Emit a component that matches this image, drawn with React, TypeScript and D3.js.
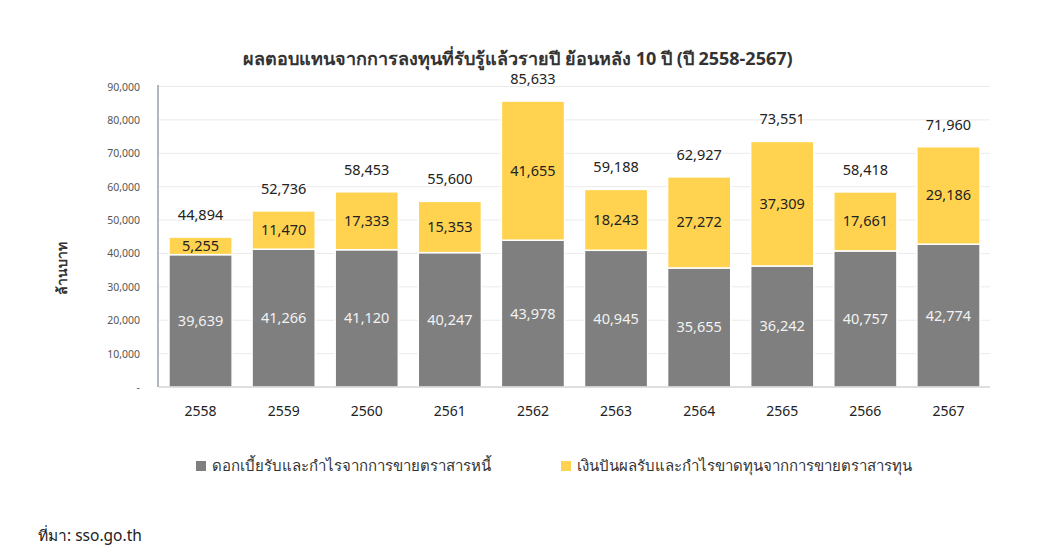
import * as d3 from "d3";

const years = ["2558", "2559", "2560", "2561", "2562", "2563", "2564", "2565", "2566", "2567"];
const interest = [39639, 41266, 41120, 40247, 43978, 40945, 35655, 36242, 40757, 42774];
const dividends = [5255, 11470, 17333, 15353, 41655, 18243, 27272, 37309, 17661, 29186];
const totals = [44894, 52736, 58453, 55600, 85633, 59188, 62927, 73551, 58418, 71960];
const yTicks = [0, 10000, 20000, 30000, 40000, 50000, 60000, 70000, 80000, 90000];
const seriesNames = [
  "ดอกเบี้ยรับและกำไรจากการขายตราสารหนี้",
  "เงินปันผลรับและกำไรขาดทุนจากการขายตราสารทุน",
];

const GREY = "#7f7f7f";
const YELLOW = "#ffd34f";
const FONT = "'Noto Sans', 'DejaVu Sans', sans-serif";

export default function App() {
  const width = 1040;
  const height = 560;
  const left = 159;
  const right = 990;
  const bottom = 387;

  const x = d3.scaleBand().domain(years).range([left, right]).paddingInner(0.24).paddingOuter(0.12);
  const y = d3.scaleLinear().domain([0, 90000]).range([bottom, 86.5]);
  const fmt = d3.format(",");
  const bw = x.bandwidth();

  return (
    <svg
      width={width}
      height={height}
      style={{ position: "absolute", left: 0, top: 0, background: "#fff" }}
      fontFamily={FONT}
    >
      <text x={518} y={65} textAnchor="middle" fontSize={18} fontWeight="bold" fill="#333">
        ผลตอบแทนจากการลงทุนที่รับรู้แล้วรายปี ย้อนหลัง 10 ปี (ปี 2558-2567)
      </text>

      {yTicks.map((t) => (
        <g key={t}>
          {t > 0 && <line x1={left} x2={right} y1={y(t)} y2={y(t)} stroke="#ebebeb" />}
          <text x={140} y={y(t) + 4} textAnchor="end" fontSize={10.5} fill="#555">
            {t === 0 ? "-" : fmt(t)}
          </text>
        </g>
      ))}

      <text
        transform={`translate(67, 268) rotate(-90)`}
        textAnchor="middle"
        fontSize={14}
        fontWeight="bold"
        fill="#333"
      >
        ล้านบาท
      </text>

      {years.map((yr, i) => {
        const bx = x(yr) ?? 0;
        const cx = bx + bw / 2;
        const g0 = y(interest[i]);
        const g1 = y(interest[i] + dividends[i]);
        return (
          <g key={yr}>
            <rect x={bx} y={g0} width={bw} height={bottom - g0} fill={GREY} stroke="#fff" strokeWidth={1.5} />
            <rect x={bx} y={g1} width={bw} height={g0 - g1} fill={YELLOW} stroke="#fff" strokeWidth={1.5} />
            <text x={cx} y={(g0 + bottom) / 2 + 5} textAnchor="middle" fontSize={14.5} fill="#f2f2f2">
              {fmt(interest[i])}
            </text>
            <text x={cx} y={(g1 + g0) / 2 + 5} textAnchor="middle" fontSize={14.5} fill="#222">
              {fmt(dividends[i])}
            </text>
            <text x={cx} y={y(totals[i]) - 17} textAnchor="middle" fontSize={14.5} fill="#222">
              {fmt(totals[i])}
            </text>
            <text x={cx} y={416} textAnchor="middle" fontSize={14} fill="#222">
              {yr}
            </text>
          </g>
        );
      })}

      <line x1={left - 1} x2={left - 1} y1={85} y2={bottom} stroke="#7d8799" strokeWidth={1.2} />
      <line x1={left} x2={right} y1={bottom} y2={bottom} stroke="#bfbfbf" strokeWidth={1.2} />

      <g fontSize={15} fill="#333">
        <rect x={196} y={461} width={10} height={10} fill={GREY} />
        <text x={212} y={471}>{seriesNames[0]}</text>
        <rect x={561} y={461} width={10} height={10} fill={YELLOW} />
        <text x={577} y={471}>{seriesNames[1]}</text>
      </g>

      <text x={38} y={541} fontSize={15.5} fill="#222">
        ที่มา: sso.go.th
      </text>
    </svg>
  );
}
